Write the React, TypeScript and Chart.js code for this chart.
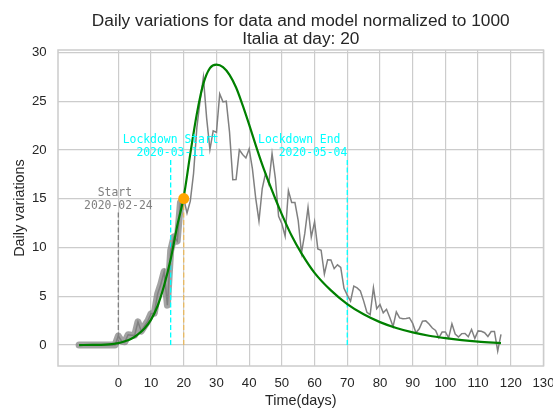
import React, { useEffect, useRef } from 'react';
import { Chart, registerables } from 'chart.js';

Chart.register(...registerables);

// ---- data (normalized daily variations) ----
const firstDataDay = -12;
const dataValues = [
  0, 0, 0, 0, 0, 0, 0, 0, 0, 0, 0, 0,
  0.92, 0.39, 0.33, 1.05, 1.0, 1.0, 2.37, 1.43, 1.95, 2.46,
  3.22, 3.26, 5.22, 6.24, 7.52, 4.09, 9.68, 11.09, 10.66, 14.63,
  15.02, 13.53, 14.75, 17.6, 22.27, 25.05, 27.44, 23.26, 20.04, 21.96,
  21.8, 25.74, 24.93, 25.0, 21.83, 16.95, 16.96, 20.01, 19.53, 19.18,
  20.1, 18.06, 15.06, 12.72, 16.05, 17.59, 16.53, 19.64, 17.12, 13.19,
  12.44, 11.16, 15.84, 14.62, 14.61, 12.75, 9.44, 11.42, 14.1, 11.07,
  12.64, 9.86, 9.72, 7.28, 8.75, 8.73, 7.83, 8.22, 7.95, 5.81,
  5.11, 4.5, 6.04, 5.86, 5.55, 4.53, 3.36, 3.11, 5.87, 3.72,
  4.15, 3.3, 3.66, 2.82, 1.89, 3.4, 2.78, 2.69, 2.73, 2.8,
  2.22, 1.26, 1.66, 2.44, 2.48, 2.16, 1.74, 1.49, 0.74, 1.33,
  1.34, 0.74, 2.17, 1.13, 0.82, 1.17, 1.18, 0.85, 1.59, 0.68,
  1.45, 1.41, 1.26, 0.88, 1.38, 1.39, -0.62, 1.1,
];
const trainingLastDay = 20;

const modelDays = [-12, -8, -4, -2, 0, 2, 4, 6, 8, 10, 12, 14, 16, 18, 20, 22, 24, 26, 28, 30, 32, 34, 36, 38, 40, 42, 44, 46, 48, 50, 53, 56, 60, 65, 70, 75, 80, 85, 90, 95, 100, 105, 110, 117];
const modelValues = [0.0, 0.01, 0.04, 0.09, 0.2, 0.38, 0.65, 1.1, 1.7, 2.6, 4.0, 6.1, 8.8, 12.2, 15.2, 19.6, 23.7, 26.8, 28.4, 28.75, 28.5, 27.7, 26.4, 24.6, 22.6, 20.5, 18.5, 16.7, 15.0, 13.4, 11.2, 9.4, 7.4, 5.6, 4.2, 3.15, 2.35, 1.75, 1.3, 0.95, 0.7, 0.5, 0.35, 0.2];

const currentDay = 20;
const currentValue = 15.02;

const eventDays = [0, 16, 70];
const eventLineTops = [13.7, 19.2, 19.2];
const eventLabels = [
  ['Start ', '2020-02-24'],
  ['Lockdown Start', '2020-03-11'],
  ['Lockdown End ', '2020-05-04'],
];

const xTicks = [0, 10, 20, 30, 40, 50, 60, 70, 80, 90, 100, 110, 120, 130];
const yTicks = [0, 5, 10, 15, 20, 25, 30];

const titleLines = ['Daily variations for data and model normalized to 1000', 'Italia at day: 20'];
const xTitle = 'Time(days)';
const yTitle = 'Daily variations';

// ---- styling (kept apart from data) ----
const SANS = '"Liberation Sans", Arial, sans-serif';
const MONO = '"DejaVu Sans Mono", monospace';
const TEXT = '#262626';
const GRID = '#cccccc';
const eventColors = ['#808080', '#00ffff', '#00ffff'];
const eventAlign: CanvasTextAlign[] = ['center', 'center', 'right'];
const eventTextY = [14.2, 19.65, 19.65];

const decorPlugin = {
  id: 'decor',
  afterDatasetsDraw(chart: any) {
    const { ctx, scales } = chart;
    const x = scales.x, y = scales.y;
    ctx.save();
    ctx.font = '11.4px ' + MONO;
    ctx.textBaseline = 'middle';
    eventLabels.forEach((lines, i) => {
      ctx.fillStyle = eventColors[i];
      ctx.textAlign = eventAlign[i];
      const px = x.getPixelForValue(eventDays[i]);
      const py = y.getPixelForValue(eventTextY[i]);
      ctx.fillText(lines[0], px, py - 13.4);
      ctx.fillText(lines[1], px, py);
    });
    ctx.restore();
  },
  afterDraw(chart: any) {
    const { ctx, chartArea: ca } = chart;
    ctx.save();
    ctx.strokeStyle = GRID;
    ctx.lineWidth = 1.5;
    ctx.strokeRect(ca.left, ca.top, ca.right - ca.left, ca.bottom - ca.top);
    const cx = (ca.left + ca.right) / 2;
    ctx.fillStyle = TEXT;
    ctx.textAlign = 'center';
    ctx.textBaseline = 'alphabetic';
    ctx.font = '17.3px ' + SANS;
    ctx.fillText(titleLines[0], cx, 25.7);
    ctx.fillText(titleLines[1], cx, 44);
    ctx.font = '14.4px ' + SANS;
    ctx.fillText(xTitle, cx, 404.5);
    ctx.translate(23.5, (ca.top + ca.bottom) / 2);
    ctx.rotate(-Math.PI / 2);
    ctx.fillText(yTitle, 0, 0);
    ctx.restore();
  },
};

export default function App() {
  const ref = useRef<HTMLCanvasElement | null>(null);
  useEffect(() => {
    if (!ref.current) return;
    const allPts = dataValues.map((v, i) => ({ x: firstDataDay + i, y: v }));
    const trainPts = allPts.filter((p) => p.x <= trainingLastDay);
    const modelPts = modelDays.map((d, i) => ({ x: d, y: modelValues[i] }));
    const eventSets = eventDays.map((d, i) => ({
      data: [{ x: d, y: 0 }, { x: d, y: eventLineTops[i] }],
      borderColor: eventColors[i],
      borderWidth: 1.3,
      borderDash: [5, 2.5],
      pointRadius: 0,
      order: 4,
    }));
    const chart = new Chart(ref.current, {
      type: 'line',
      data: {
        datasets: [
          {
            data: [{ x: currentDay, y: 0 }, { x: currentDay, y: currentValue }],
            borderColor: 'rgba(255,165,0,0.55)',
            borderWidth: 1.3,
            borderDash: [5, 2.5],
            pointRadius: 0,
            order: 4,
          },
          ...eventSets,
          {
            data: trainPts,
            borderColor: 'rgba(128,128,128,0.72)',
            borderWidth: 7,
            borderCapStyle: 'round',
            borderJoinStyle: 'round',
            pointRadius: 0,
            order: 5,
          },
          {
            data: allPts,
            borderColor: '#808080',
            borderWidth: 1.5,
            pointRadius: 0,
            order: 3,
          },
          {
            data: modelPts,
            borderColor: '#008000',
            borderWidth: 2.2,
            cubicInterpolationMode: 'monotone',
            pointRadius: 0,
            order: 2,
          },
          {
            data: [{ x: currentDay, y: currentValue }],
            showLine: false,
            pointRadius: 5.5,
            pointBackgroundColor: '#ffa500',
            pointBorderColor: '#ffa500',
            pointBorderWidth: 0,
            order: 1,
          },
        ] as any,
      },
      options: {
        animation: false,
        responsive: false,
        devicePixelRatio: 1,
        layout: { padding: { left: 0, right: 9.5, top: 50, bottom: 0 } },
        plugins: {
          legend: { display: false },
          title: { display: false },
          tooltip: { enabled: false },
        },
        scales: {
          x: {
            type: 'linear',
            min: -18.45,
            max: 130,
            afterBuildTicks: (s: any) => {
              s.ticks = xTicks.map((v) => ({ value: v }));
            },
            afterFit: (s: any) => {
              s.height = 43;
              s.paddingLeft = 0;
              s.paddingRight = 0;
            },
            grid: { color: GRID, lineWidth: 1.2, drawTicks: false },
            border: { display: false },
            ticks: {
              padding: 9.8,
              autoSkip: false,
              maxRotation: 0,
              color: TEXT,
              font: { family: SANS, size: 13.2 },
            },
          },
          y: {
            type: 'linear',
            min: -2.15,
            max: 30.25,
            afterBuildTicks: (s: any) => {
              s.ticks = yTicks.map((v) => ({ value: v }));
            },
            afterFit: (s: any) => {
              s.width = 58;
              s.paddingTop = 0;
              s.paddingBottom = 0;
            },
            grid: { color: GRID, lineWidth: 1.2, drawTicks: false },
            border: { display: false },
            ticks: {
              padding: 11.3,
              color: TEXT,
              font: { family: SANS, size: 13.2 },
            },
          },
        },
      } as any,
      plugins: [decorPlugin],
    });
    return () => chart.destroy();
  }, []);
  return (
    <div style={{ position: 'fixed', left: 0, top: 0, width: 553, height: 409, background: '#fff' }}>
      <canvas ref={ref} width={553} height={409} style={{ width: 553, height: 409, display: 'block' }} />
    </div>
  );
}
